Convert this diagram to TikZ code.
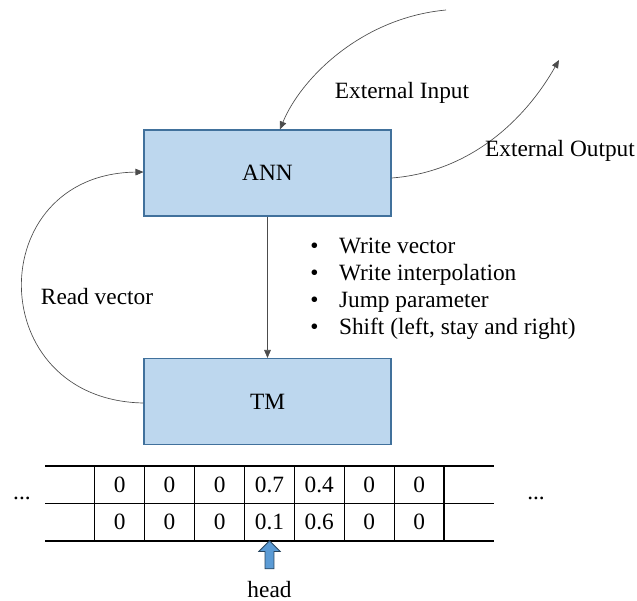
\documentclass[tikz,border=0pt]{standalone}
\usepackage{fontspec}
\setmainfont{Liberation Serif}
\usetikzlibrary{arrows.meta,shapes.arrows}
\definecolor{boxfill}{HTML}{BDD7EE}
\definecolor{boxline}{HTML}{41719C}
\definecolor{headfill}{HTML}{5B9BD5}
\begin{document}
\begin{tikzpicture}[x=0.75pt,y=-0.75pt,
  every node/.style={font=\fontsize{17.5}{20.25}\selectfont},
  block/.style={draw=boxline,fill=boxfill,line width=0.8pt,minimum width=185.25pt,minimum height=64.5pt,inner sep=0pt},
  conn/.style={draw=black!70,line width=0.5pt,-{Triangle[length=6pt,width=5pt]}},
  tapeline/.style={line width=0.9pt},
  cell/.style={inner sep=0pt}]
\useasboundingbox (0,0) rectangle (637,601);
\node[block] (ANN) at (267.5,173) {ANN};
\node[block] (TM) at (267.5,401.5) {TM};
\draw[conn] (ANN.south) -- (TM.north);
% external input / output
\coordinate (inS) at (446,10);
\coordinate (outE) at (559,60);
\draw[conn] (inS) .. controls (360,18) and (300,80) .. (ANN.north -| 280,0);
\draw[conn] (ANN.east |- 0,178) .. controls (470,172) and (525,120) .. (outE);
\node (extin) at (402,93) {External Input};
\node (extout) at (560,151) {External Output};
% read vector
\draw[conn] (TM.west |- 0,403) .. controls (-18,400) and (-18,174) .. (ANN.west |- 0,172);
\node (rv) at (97,297) {Read vector};
% bullets
\node[anchor=west,align=left,inner sep=0pt] (bl) at (310,289) {%
\begin{tabular}{@{}l@{\hspace{15.5pt}}l@{}}
\textbullet & Write vector\\
\textbullet & Write interpolation\\
\textbullet & Jump parameter\\
\textbullet & Shift (left, stay and right)
\end{tabular}};
% tape
\foreach \yy in {466,503.5,541} \draw[tapeline] (45,\yy) -- (494,\yy);
\foreach \xx in {94.7,144.5,194.5,244.7,294.3,344.3,394.3,444} \draw[tapeline] (\xx,466) -- (\xx,541);
\foreach \v [count=\i] in {0,0,0,0.7,0.4,0,0} {
  \pgfmathsetmacro{\cx}{{94.7,144.5,194.5,244.7,294.3,344.3,394.3,444}[\i-1]}
  \pgfmathsetmacro{\cxx}{{94.7,144.5,194.5,244.7,294.3,344.3,394.3,444}[\i]}
  \node[cell] (ta\i) at ({(\cx+\cxx)/2},484.5) {\v};
}
\foreach \v [count=\i] in {0,0,0,0.1,0.6,0,0} {
  \pgfmathsetmacro{\cx}{{94.7,144.5,194.5,244.7,294.3,344.3,394.3,444}[\i-1]}
  \pgfmathsetmacro{\cxx}{{94.7,144.5,194.5,244.7,294.3,344.3,394.3,444}[\i]}
  \node[cell] (tb\i) at ({(\cx+\cxx)/2},522) {\v};
}
\node (dl) at (22,498) {...};
\node (dr) at (536,498) {...};
% head
\node[single arrow,draw=boxline!60!black,fill=headfill,shape border rotate=90,
  minimum height=21pt,minimum width=16pt,single arrow head extend=3.5pt,inner sep=2.2pt,line width=0.6pt] (harr) at (269.5,557) {};
\node[inner sep=0pt,anchor=base] (head) at (269.5,597) {head};
\end{tikzpicture}
\end{document}
